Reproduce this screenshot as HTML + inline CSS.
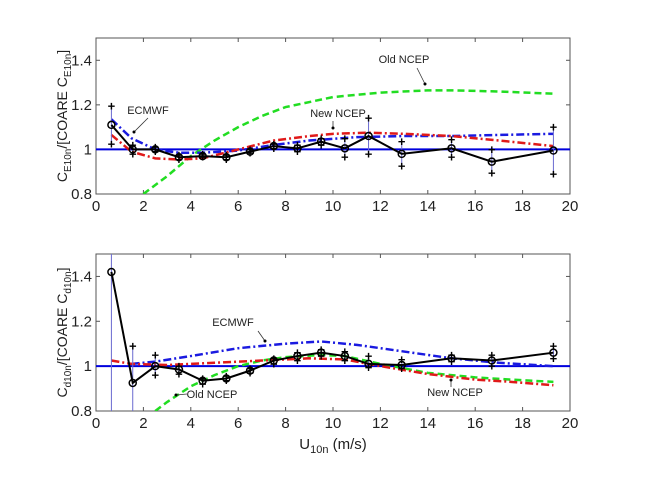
<!DOCTYPE html>
<html><head><meta charset="utf-8"><style>
body{margin:0;background:#fff;}
svg{display:block;font-family:"Liberation Sans",Arial,sans-serif;}
</style></head><body>
<svg id="chart" width="667" height="500" viewBox="0 0 667 500" xmlns="http://www.w3.org/2000/svg"></svg>
<script>
const xs = [0.65,1.55,2.5,3.5,4.5,5.5,6.5,7.5,8.5,9.5,10.5,11.5,12.9,15,16.7,19.3];
const xTicks = [0,2,4,6,8,10,12,14,16,18,20];
const yTicks = [0.8,1,1.2,1.4];
const yTickLabels = ["0.8","1","1.2","1.4"];
// top panel (C_E)
const topMean = [1.11,1.00,1.00,0.965,0.97,0.965,0.99,1.015,1.005,1.035,1.005,1.06,0.98,1.005,0.945,0.995];
const topHi = [1.195,1.02,1.01,0.975,0.98,0.975,1.0,1.025,1.02,1.05,1.05,1.14,1.035,1.045,1.0,1.10];
const topLo = [1.025,0.98,0.99,0.955,0.965,0.955,0.985,1.005,0.99,1.02,0.965,0.98,0.925,0.965,0.895,0.89];
const topOldX = [2,3,4,5,6,7,8,10,12,14,15,17,19.3];
const topOldY = [0.8,0.88,0.97,1.04,1.10,1.15,1.19,1.235,1.255,1.265,1.265,1.26,1.25];
const topEcX = [0.65,1.5,2.5,3.5,4.5,6,7.5,9,11,13,15,17,19.3];
const topEcY = [1.135,1.05,1.0,0.985,0.985,0.995,1.02,1.04,1.055,1.06,1.06,1.065,1.07];
const topNewX = [0.65,1.5,2.5,3.5,4.5,6,7.5,9,10,11.5,13,15,17,19.3];
const topNewY = [1.065,0.99,0.96,0.955,0.96,1.0,1.04,1.06,1.07,1.075,1.07,1.06,1.04,1.015];
// bottom panel (C_d)
const botMean = [1.42,0.925,1.0,0.985,0.935,0.945,0.98,1.025,1.045,1.06,1.045,1.01,1.005,1.035,1.025,1.06];
const botHi = [1.5,1.09,1.05,1.0,0.945,0.955,0.99,1.035,1.06,1.075,1.065,1.045,1.03,1.05,1.05,1.09];
const botLo = [0.8,0.8,0.96,0.965,0.92,0.935,0.97,1.01,1.025,1.045,1.025,0.995,0.99,1.02,1.0,1.035];
const botEcX = [1.5,2.5,4,6,8,9.5,11,13,15,17,19.3];
const botEcY = [1.01,1.02,1.045,1.08,1.1,1.11,1.095,1.065,1.035,1.015,1.0];
const botNewX = [0.65,1.5,3,5,7,9,10.5,12,14,16,17.5,19.3];
const botNewY = [1.025,1.01,1.005,1.015,1.025,1.035,1.03,1.0,0.965,0.94,0.93,0.915];
const botOldX = [2.5,3,4,5,6,7,8,9.5,10.5,12,14,16,17.5,19.3];
const botOldY = [0.8,0.84,0.91,0.96,1.0,1.025,1.04,1.05,1.045,1.01,0.97,0.95,0.94,0.93];

const NS="http://www.w3.org/2000/svg";
const svg=document.getElementById('chart');
function mk(tag,attrs,parent){const e=document.createElementNS(NS,tag);for(const k in attrs)e.setAttribute(k,attrs[k]);(parent||svg).appendChild(e);return e;}
const L=96,R=570;
function sx(v){return L+(v-0)/(20-0)*(R-L);}

function panel(name,top,bot,mean,hi,lo,curves,ylabelSub,showXTitle,annots){
  const g=mk('g',{});
  
  
  const sy=v=>bot-(v-0.8)/(1.5-0.8)*(bot-top);
  const box=mk('rect',{x:L,y:top,width:R-L,height:bot-top,fill:'#fff',stroke:'#555','stroke-width':1},g);
  
  
  xTicks.forEach(t=>{
    mk('line',{x1:sx(t),x2:sx(t),y1:bot,y2:bot-4,stroke:'#555'},g);
    mk('line',{x1:sx(t),x2:sx(t),y1:top,y2:top+4,stroke:'#555'},g);
    const tx=mk('text',{x:sx(t),y:bot+17,'font-size':15,'text-anchor':'middle',fill:'#222'},g);
    tx.textContent=t;
    
    
  });
  yTicks.forEach((t,i)=>{
    mk('line',{x1:L,x2:L+4,y1:sy(t),y2:sy(t),stroke:'#555'},g);
    mk('line',{x1:R,x2:R-4,y1:sy(t),y2:sy(t),stroke:'#555'},g);
    const tx=mk('text',{x:L-4,y:sy(t)+5,'font-size':15,'text-anchor':'end',fill:'#222'},g);
    tx.textContent=yTickLabels[i];
    
    
  });
  const clip=mk('clipPath',{id:'clip-'+name},g);
  mk('rect',{x:L,y:top,width:R-L,height:bot-top},clip);
  const cg=mk('g',{'clip-path':'url(#clip-'+name+')'},g);
  const ref=mk('line',{x1:L,x2:R,y1:sy(1),y2:sy(1),stroke:'#0000dd','stroke-width':2},cg);
  
  
  curves.forEach(c=>{
    const p=mk('polyline',{points:c.x.map((v,i)=>sx(v)+','+sy(c.y[i])).join(' '),fill:'none',stroke:c.color,'stroke-width':2.5,'stroke-dasharray':c.dash},cg);
    
    
  });
  xs.forEach((x,i)=>{
    const eb=mk('line',{x1:sx(x),x2:sx(x),y1:sy(hi[i]),y2:sy(lo[i]),stroke:'#6a6ad0','stroke-width':1},cg);
    
    
    [hi[i],lo[i]].forEach(v=>{
      if(v>=1.5||v<=0.8)return;
      const c=mk('text',{x:sx(x),y:sy(v)+4.5,'font-size':13,'font-weight':'bold','text-anchor':'middle',fill:'#000'},cg);
      c.textContent='+';
      
      
    });
  });
  const ml=mk('polyline',{points:xs.map((v,i)=>sx(v)+','+sy(mean[i])).join(' '),fill:'none',stroke:'#000','stroke-width':2},cg);
  
  
  xs.forEach((x,i)=>{
    const c=mk('circle',{cx:sx(x),cy:sy(mean[i]),r:3.5,fill:'none',stroke:'#000','stroke-width':1.5},cg);
    
    
  });
  annots.forEach(a=>{
    const t=mk('text',{x:a.tx,y:a.ty,'font-size':11,fill:'#222','text-anchor':'middle'},g);
    t.textContent=a.label;
    
    
    mk('line',{x1:a.x1,y1:a.y1,x2:a.x2,y2:a.y2,stroke:'#333','stroke-width':0.8},g);
    mk('circle',{cx:a.x2,cy:a.y2,r:1.5,fill:'#000'},g);
  });
  const yl=mk('text',{transform:'translate(67,'+((top+bot)/2)+') rotate(-90)','font-size':14,'text-anchor':'middle',fill:'#222'},g);
  yl.innerHTML='C<tspan font-size="10" dy="4">'+ylabelSub+'</tspan><tspan dy="-4">/[COARE C</tspan><tspan font-size="10" dy="4">'+ylabelSub+'</tspan><tspan dy="-4">]</tspan>';
  
  
  if(showXTitle){
    const xt=mk('text',{x:333,y:bot+38,'font-size':15,'text-anchor':'middle',fill:'#222'},g);
    xt.innerHTML='U<tspan font-size="11" dy="4">10n</tspan><tspan dy="-4"> (m/s)</tspan>';
    
    
  }
}
panel('top-panel',38,194,topMean,topHi,topLo,[
  {name:'old-ncep-curve',x:topOldX,y:topOldY,color:'#22dd22',dash:'7,4'},
  {name:'ecmwf-curve',x:topEcX,y:topEcY,color:'#1a1ae0',dash:'8,3,2,3'},
  {name:'new-ncep-curve',x:topNewX,y:topNewY,color:'#e01a1a',dash:'8,3,2,3'}
],'E10n',false,[
  {label:'Old NCEP',tx:404,ty:63,x1:417,y1:68,x2:425,y2:84},
  {label:'ECMWF',tx:148,ty:114,x1:148,y1:118,x2:134,y2:132},
  {label:'New NCEP',tx:338,ty:117,x1:333,y1:121,x2:333,y2:128}
]);
panel('bottom-panel',254,411,botMean,botHi,botLo,[
  {name:'old-ncep-curve',x:botOldX,y:botOldY,color:'#22dd22',dash:'7,4'},
  {name:'ecmwf-curve',x:botEcX,y:botEcY,color:'#1a1ae0',dash:'8,3,2,3'},
  {name:'new-ncep-curve',x:botNewX,y:botNewY,color:'#e01a1a',dash:'8,3,2,3'}
],'d10n',true,[
  {label:'ECMWF',tx:233,ty:326,x1:258,y1:331,x2:265,y2:341},
  {label:'Old NCEP',tx:212,ty:398,x1:187,y1:394,x2:176,y2:395},
  {label:'New NCEP',tx:455,ty:396,x1:451,y1:387,x2:451,y2:380}
]);
</script>
</body></html>
